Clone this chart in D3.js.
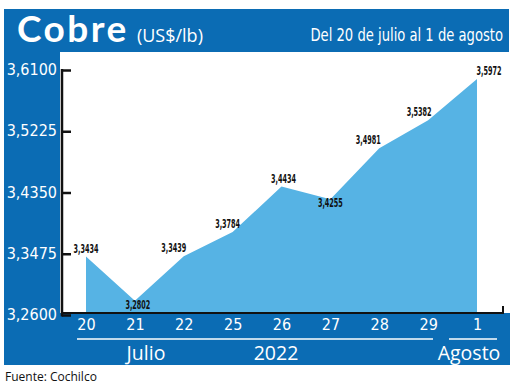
<!DOCTYPE html>
<html>
<head>
<meta charset="utf-8">
<script src="https://cdn.jsdelivr.net/npm/d3@7"></script>
<style>
  body { margin: 0; background: #fff; }
  svg { display: block; }
  .cond { font-family: "Liberation Sans Narrow", "DejaVu Sans Condensed", sans-serif; font-stretch: condensed; }
</style>
</head>
<body>
<svg id="chart" width="520" height="387"></svg>
<script>
// data
const days = ['20', '21', '22', '25', '26', '27', '28', '29', '1'];
const prices = [3.3434, 3.2802, 3.3439, 3.3784, 3.4434, 3.4255, 3.4981, 3.5382, 3.5972];
const yTicks = [3.26, 3.3475, 3.435, 3.5225, 3.61];
const months = ['Julio', '2022', 'Agosto'];

const blue = '#0b6cb4';
const fill = '#56b3e4';
const fmt = v => d3.format('.4f')(v).replace('.', ',');

const svg = d3.select('#chart');

// frame
svg.append('rect').attr('x', 4).attr('y', 9).attr('width', 505).attr('height', 43).attr('fill', blue);
svg.append('rect').attr('x', 4).attr('y', 9).attr('width', 56).attr('height', 356).attr('fill', blue);

const x = d3.scalePoint().domain(d3.range(days.length)).range([86, 477]);
const y = d3.scaleLinear().domain([3.26, 3.61]).range([315, 70]);

const area = d3.area()
    .x((d, i) => x(i))
    .y0(y(3.26))
    .y1(d => y(d));

svg.append('path')
    .datum(prices)
    .attr('d', area)
    .attr('fill', fill);

// bottom band
svg.append('rect').attr('x', 4).attr('y', 313).attr('width', 506).attr('height', 52).attr('fill', blue);

// x axis line
svg.append('path')
    .attr('d', 'M62,313H503V306')
    .attr('fill', 'none')
    .attr('stroke', '#111')
    .attr('stroke-width', 2);

// y axis
const yAxis = d3.axisRight(y)
    .tickValues(yTicks)
    .tickSize(9)
    .tickFormat('');

const gy = svg.append('g')
    .attr('transform', 'translate(62,0)')
    .call(yAxis);
gy.select('.domain').attr('stroke', '#111').attr('stroke-width', 2.5)
    .attr('d', 'M0,' + (y(3.61) - 1) + 'V' + (y(3.26) + 1.5));
gy.selectAll('.tick line').attr('stroke', '#111').attr('stroke-width', 2.5);

svg.append('g').selectAll('text')
    .data(yTicks)
    .join('text')
    .attr('class', 'cond')
    .attr('x', 57)
    .attr('y', d => y(d) + 5)
    .attr('text-anchor', 'end')
    .attr('fill', '#fff')
    .attr('font-size', 16)
    .text(fmt);

// x tick labels
const xAxis = d3.axisBottom(x).tickSize(0).tickFormat(i => days[i]);
const gx = svg.append('g')
    .attr('transform', 'translate(0,313)')
    .call(xAxis);
gx.select('.domain').remove();
gx.selectAll('text')
    .attr('class', 'cond')
    .attr('fill', '#fff')
    .attr('font-size', 16)
    .attr('dy', '0.85em')
    .attr('y', 3);

// month group lines
svg.append('line').attr('x1', 77).attr('x2', 433).attr('y1', 339).attr('y2', 339)
    .attr('stroke', '#fff').attr('stroke-width', 1.5);
svg.append('line').attr('x1', 449).attr('x2', 497).attr('y1', 339).attr('y2', 339)
    .attr('stroke', '#fff').attr('stroke-width', 1.5);

const monthX = [146, 276, 469];
svg.append('g').selectAll('text')
    .data(months)
    .join('text')
    .attr('x', (d, i) => monthX[i])
    .attr('y', 360)
    .attr('text-anchor', 'middle')
    .attr('fill', '#fff')
    .attr('font-family', '"Open Sans", sans-serif')
    .attr('font-size', 19.5)
    .text(d => d);

// value labels
const below = [false, true, false, false, false, true, false, false, false];
const shift = [0, 3, -10, -5, 2, 0, -11, -9, 12];
svg.append('g').selectAll('text')
    .data(prices)
    .join('text')
    .attr('class', 'cond')
    .attr('x', (d, i) => x(i) + shift[i])
    .attr('y', (d, i) => below[i] ? y(d) + 8 : y(d) - 4)
    .attr('text-anchor', 'middle')
    .attr('fill', '#111')
    .attr('font-size', 12)
    .attr('font-weight', 600)
    .attr('textLength', 25)
    .attr('lengthAdjust', 'spacingAndGlyphs')
    .text(fmt);

// title
const title = svg.append('text')
    .attr('x', 17)
    .attr('y', 42)
    .attr('fill', '#fff');
title.append('tspan')
    .attr('font-family', '"Lato", sans-serif')
    .attr('font-weight', 700)
    .attr('font-size', 37)
    .attr('letter-spacing', 2.5)
    .text('Cobre');
title.append('tspan')
    .attr('dx', 8)
    .attr('font-family', '"Open Sans", sans-serif')
    .attr('font-size', 18)
    .attr('letter-spacing', 0)
    .text('(US$/lb)');

// subtitle, squeezed horizontally like the condensed original
svg.append('text')
    .attr('class', 'cond')
    .attr('transform', 'translate(503,41) scale(0.86,1)')
    .attr('text-anchor', 'end')
    .attr('fill', '#fff')
    .attr('font-size', 17)
    .text('Del 20 de julio al 1 de agosto');

svg.append('text')
    .attr('x', 5)
    .attr('y', 381)
    .attr('fill', '#111')
    .attr('font-family', '"Open Sans", sans-serif')
    .attr('font-size', 12)
    .text('Fuente: Cochilco');
</script>
</body>
</html>
